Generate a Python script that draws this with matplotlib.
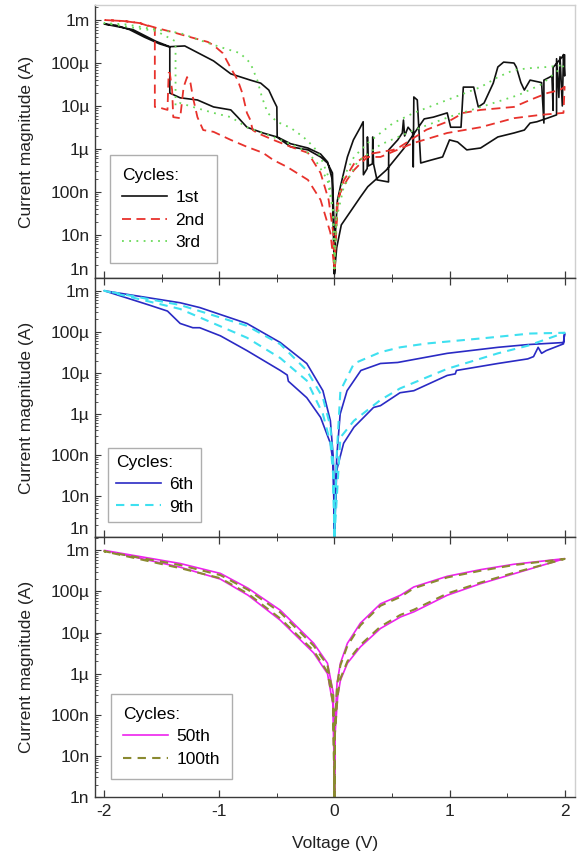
import matplotlib
matplotlib.use("Agg")
import matplotlib.pyplot as plt
from matplotlib.ticker import FixedLocator, FixedFormatter, LogLocator, NullFormatter, MultipleLocator

plt.rcParams['font.family'] = ['Liberation Sans', 'DejaVu Sans']
plt.rcParams['axes.unicode_minus'] = False

# ---------------- Cycles 1-3 (top panel) ----------------
v_c1 = [0.0, -0.005, -0.017, -0.06, -0.12, -0.23, -0.38, -0.50, -0.62, -0.76, -0.84, -0.90,
        -1.05, -1.19, -1.34, -1.43, -1.43, -1.52, -1.65, -1.78, -1.90, -2.0,
        -1.75, -1.55, -1.43, -1.30, -1.05, -0.90, -0.73, -0.64, -0.57, -0.53, -0.50, -0.497,
        -0.38, -0.23, -0.12, -0.06, -0.02, 0.0,
        0.01, 0.026, 0.052, 0.113, 0.165, 0.226, 0.25, 0.252, 0.285, 0.287, 0.295, 0.33,
        0.333, 0.34, 0.37, 0.47, 0.472, 0.55, 0.59, 0.60, 0.61, 0.64, 0.68, 0.685, 0.69,
        0.72, 0.75, 0.84, 0.94, 1.0, 1.07, 1.15, 1.27, 1.42, 1.56, 1.65, 1.70, 1.76, 1.85,
        1.93, 1.93, 1.95, 1.96, 1.98, 1.99, 2.0, 2.0,
        1.98, 1.90, 1.90, 1.89, 1.82, 1.82, 1.80, 1.70, 1.65, 1.62, 1.58, 1.56, 1.47, 1.42,
        1.38, 1.30, 1.25, 1.21, 1.12, 1.10, 1.01, 0.98, 0.86, 0.78, 0.60, 0.45, 0.29, 0.226,
        0.06, 0.02, 0.0]
i_c1 = [1.26e-9, 2.5e-8, 2.75e-7, 4.7e-7, 6.5e-7, 9.5e-7, 1.12e-6, 1.9e-6, 2.35e-6, 3.2e-6, 5.5e-6, 8.1e-6,
        9.5e-6, 1.38e-5, 1.55e-5, 2.0e-5, 2.35e-4, 2.8e-4, 4.0e-4, 6.0e-4, 7.6e-4, 8.1e-4,
        6.0e-4, 3.2e-4, 2.4e-4, 2.5e-4, 1.12e-4, 5.6e-5, 4.0e-5, 3.4e-5, 2.35e-5, 1.38e-5, 9.5e-6, 1.9e-6,
        1.32e-6, 1.05e-6, 7.6e-7, 5.0e-7, 2.0e-7, 1.26e-9,
        1.26e-8, 6.3e-8, 1.32e-7, 6.5e-7, 1.62e-6, 3.2e-6, 4.3e-6, 2.5e-7, 3.5e-7, 1.9e-6, 4.0e-7, 4.5e-7,
        1.9e-6, 4.5e-7, 1.9e-7, 1.7e-7, 9.5e-7, 1.62e-6, 2.35e-6, 4.7e-6, 2.0e-6, 3.2e-6, 2.35e-6, 3.8e-7, 1.62e-5,
        1.38e-5, 4.7e-7, 5.5e-7, 6.5e-7, 1.62e-6, 1.45e-6, 9.5e-7, 1.05e-6, 1.9e-6, 2.35e-6, 2.75e-6, 4.0e-6, 4.3e-6, 5.2e-6,
        6.2e-6, 1.26e-4, 1.58e-5, 1.4e-4, 1.0e-5, 1.58e-4, 5.0e-5, 1.55e-4,
        1.4e-4, 7.9e-5, 7.9e-6, 5.0e-5, 4.0e-5, 4.0e-6, 3.5e-5, 4.0e-5, 2.35e-5, 3.5e-5, 8.1e-5, 1.0e-4, 1.05e-4, 8.1e-5,
        3.4e-5, 1.17e-5, 9.5e-6, 2.75e-5, 2.75e-5, 3.2e-6, 3.2e-6, 6.9e-6, 5.5e-6, 5.0e-6, 1.0e-6, 3.2e-7, 1.32e-7, 7.6e-8,
        1.7e-8, 5.0e-9, 1.26e-9]

v_c2 = [0.0, 0.02, 0.05, 0.11, 0.17, 0.23, 0.29, 0.40, 0.69, 0.98, 1.27, 1.56, 1.79, 1.99, 2.0,
        1.96, 1.85, 1.70, 1.56, 1.27, 1.12, 1.0, 0.8, 0.57, 0.51, 0.30, 0.17, 0.08, 0.03, 0.0,
        -0.035, -0.12, -0.23, -0.41, -0.53, -0.62, -0.76, -0.90, -1.05, -1.14, -1.19, -1.23, -1.25,
        -1.28, -1.31, -1.34, -1.40, -1.41, -1.43, -1.44, -1.45, -1.54, -1.56, -1.56, -1.69, -1.83, -1.99,
        -1.83, -1.69, -1.54, -1.40, -1.25, -1.10, -1.05, -0.97, -0.90, -0.84, -0.80, -0.76, -0.73, -0.71,
        -0.67, -0.53, -0.38, -0.23, -0.12, -0.05, -0.01, 0.0]
i_c2 = [1.6e-9, 4.5e-8, 9.5e-8, 1.9e-7, 3.2e-7, 4.7e-7, 6.5e-7, 6.5e-7, 1.38e-6, 2.35e-6, 3.2e-6, 5.2e-6, 6.2e-6, 6.9e-6, 2.8e-5,
        2.35e-5, 2.0e-5, 1.38e-5, 9.5e-6, 8.1e-6, 6.9e-6, 4.5e-6, 2.8e-6, 1.12e-6, 9.5e-7, 7.6e-7, 4.5e-7, 1.8e-7, 6.3e-8, 1.6e-9,
        1.12e-8, 6.5e-8, 1.9e-7, 3.8e-7, 5.5e-7, 8.1e-7, 1.12e-6, 1.62e-6, 2.5e-6, 2.75e-6, 5.5e-6, 1.62e-5, 3.4e-5,
        4.7e-5, 2.75e-5, 5.2e-6, 5.5e-6, 2.35e-5, 5.9e-5, 5.9e-5, 8.1e-6, 9.5e-6, 9.5e-6, 6.5e-4, 8.5e-4, 9.5e-4, 1.0e-3,
        9.5e-4, 8.5e-4, 6.5e-4, 5.2e-4, 4.0e-4, 3.1e-4, 2.6e-4, 1.7e-4, 7.6e-5, 4.0e-5, 2.0e-5, 6.9e-6, 4.7e-6, 2.75e-6,
        2.35e-6, 1.62e-6, 1.12e-6, 8.1e-7, 2.75e-7, 6.5e-8, 1.12e-8, 1.6e-9]

v_c3 = [0.0, -0.01, -0.06, -0.15, -0.23, -0.32, -0.47, -0.62, -0.76, -0.90, -1.05, -1.23, -1.34, -1.38,
        -1.38, -1.55, -1.69, -1.83, -2.0,
        -1.8, -1.6, -1.34, -1.17, -0.99, -0.82, -0.73, -0.67, -0.63, -0.58, -0.50, -0.38, -0.27, -0.18,
        -0.12, -0.05, -0.01, 0.0,
        0.02, 0.08, 0.17, 0.29, 0.40, 0.51, 0.69, 0.98, 1.27, 1.42, 1.56, 1.70, 1.85, 2.0,
        1.8, 1.6, 1.3, 1.0, 0.7, 0.4, 0.2, 0.08, 0.02, 0.0]
i_c3 = [1.6e-9, 3.2e-8, 1.9e-7, 4.7e-7, 8.1e-7, 1.12e-6, 1.62e-6, 2.35e-6, 3.2e-6, 5.5e-6, 6.9e-6, 9.5e-6, 1.17e-5, 1.0e-5,
        3.2e-4, 5.6e-4, 6.3e-4, 7.2e-4, 8.5e-4,
        7.9e-4, 6.3e-4, 5.0e-4, 3.4e-4, 2.35e-4, 1.7e-4, 1.0e-4, 4.0e-5, 1.62e-5, 6.9e-6, 4.3e-6, 3.1e-6, 1.9e-6, 1.12e-6,
        6.5e-7, 2.2e-7, 3.2e-8, 1.6e-9,
        4.5e-8, 2.2e-7, 6.5e-7, 1.38e-6, 2.35e-6, 4.0e-6, 6.9e-6, 1.38e-5, 2.75e-5, 4.7e-5, 6.9e-5, 7.6e-5, 8.1e-5, 9.0e-5,
        3.2e-5, 1.8e-5, 1.0e-5, 5.6e-6, 2.8e-6, 1.26e-6, 5.0e-7, 1.26e-7, 2.5e-8, 1.6e-9]

# ---------------- Cycles 6 and 9 (middle panel) ----------------
v_c6 = [0.0, 0.02, 0.08, 0.17, 0.34, 0.40, 0.57, 0.69, 0.98, 1.05, 1.06, 1.42, 1.68, 1.73, 1.77,
        1.80, 1.84, 1.99, 2.0,
        1.99, 1.68, 1.42, 0.98, 0.55, 0.40, 0.23, 0.11, 0.05, 0.02, 0.0,
        -0.01, -0.035, -0.12, -0.24, -0.40, -0.41, -0.47, -0.76, -0.99, -1.17, -1.23, -1.34, -1.45, -1.6, -2.0,
        -1.34, -1.17, -0.76, -0.47, -0.24, -0.10, -0.035, -0.01, 0.0]
i_c6 = [1.0e-9, 4.3e-8, 1.95e-7, 4.8e-7, 1.45e-6, 1.6e-6, 3.3e-6, 3.7e-6, 8.7e-6, 9.5e-6, 1.15e-5, 1.7e-5, 2.2e-5, 2.5e-5, 4.2e-5,
        3.0e-5, 3.5e-5, 5.1e-5, 9.1e-5,
        5.5e-5, 4.9e-5, 4.2e-5, 3.0e-5, 1.8e-5, 1.7e-5, 1.15e-5, 3.7e-6, 1.0e-6, 8.9e-8, 1.0e-9,
        6.3e-8, 1.95e-7, 8.3e-7, 2.5e-6, 6.3e-6, 8.9e-6, 1.15e-5, 3.5e-5, 8.0e-5, 1.26e-4, 1.26e-4, 1.6e-4, 3.2e-4, 4.4e-4, 1.0e-3,
        5.1e-4, 3.9e-4, 1.6e-4, 5.5e-5, 1.7e-5, 3.7e-6, 6.9e-7, 8.9e-8, 1.0e-9]

v_c9 = [0.0, 0.052, 0.17, 0.4, 0.57, 0.98, 1.42, 1.68, 2.0,
        1.7, 1.34, 0.8, 0.57, 0.4, 0.17, 0.052, 0.02, 0.0,
        -0.01, -0.035, -0.10, -0.24, -0.47, -0.76, -1.34, -2.0,
        -1.34, -0.76, -0.47, -0.24, -0.10, -0.035, -0.01, 0.0]
i_c9 = [1.0e-9, 2.7e-7, 6.9e-7, 2.2e-6, 4.2e-6, 1.26e-5, 3.0e-5, 4.6e-5, 9.5e-5,
        9.1e-5, 7.2e-5, 5.2e-5, 4.2e-5, 3.2e-5, 1.7e-5, 3.7e-6, 1.0e-7, 1.0e-9,
        3.2e-8, 2.0e-7, 1.0e-6, 6.5e-6, 2.3e-5, 7.2e-5, 3.6e-4, 1.0e-3,
        4.5e-4, 1.4e-4, 5.0e-5, 1.15e-5, 2.5e-6, 5.0e-7, 6.3e-8, 1.0e-9]

# ---------------- Cycles 50 and 100 (bottom panel) ----------------
v_c50 = [0.0, 0.005, 0.028, 0.052, 0.113, 0.226, 0.4, 0.574, 0.69, 0.98, 1.27, 1.56, 2.0,
         1.56, 1.27, 0.98, 0.69, 0.574, 0.4, 0.226, 0.113, 0.052, 0.023, 0.005, 0.0,
         -0.01, -0.06, -0.18, -0.47, -0.75, -0.99, -1.34, -2.0,
         -1.34, -0.99, -0.75, -0.47, -0.18, -0.06, -0.01, 0.0]
i_c50 = [1.0e-9, 3.2e-8, 2.7e-7, 6.9e-7, 1.8e-6, 4.5e-6, 1.26e-5, 2.4e-5, 3.2e-5, 8.1e-5, 1.55e-4, 2.7e-4, 6.3e-4,
         4.6e-4, 3.4e-4, 2.34e-4, 1.29e-4, 8.1e-5, 5.0e-5, 1.7e-5, 5.5e-6, 1.8e-6, 5.9e-7, 6.3e-8, 1.0e-9,
         1.6e-7, 1.0e-6, 3.2e-6, 2.0e-5, 8.1e-5, 2.0e-4, 3.9e-4, 1.0e-3,
         4.8e-4, 2.75e-4, 1.2e-4, 3.5e-5, 5.5e-6, 1.8e-6, 3.4e-7, 1.0e-9]

v_c100 = [0.0, 0.005, 0.028, 0.052, 0.113, 0.226, 0.4, 0.574, 0.69, 0.98, 1.27, 1.56, 2.0,
          1.56, 1.27, 0.98, 0.69, 0.574, 0.4, 0.226, 0.113, 0.052, 0.023, 0.005, 0.0,
          -0.01, -0.06, -0.18, -0.47, -0.75, -0.99, -1.34, -2.0,
          -1.34, -0.99, -0.75, -0.47, -0.18, -0.06, -0.01, 0.0]
i_c100 = [1.0e-9, 3.6e-8, 3.0e-7, 7.6e-7, 2.0e-6, 5.0e-6, 1.4e-5, 2.7e-5, 3.6e-5, 8.9e-5, 1.65e-4, 2.85e-4, 6.2e-4,
          4.4e-4, 3.2e-4, 2.2e-4, 1.2e-4, 7.4e-5, 4.5e-5, 1.5e-5, 4.8e-6, 1.6e-6, 5.2e-7, 5.5e-8, 1.0e-9,
          1.8e-7, 1.1e-6, 3.6e-6, 2.2e-5, 8.8e-5, 2.1e-4, 3.7e-4, 9.5e-4,
          4.4e-4, 2.5e-4, 1.1e-4, 3.1e-5, 4.8e-6, 1.6e-6, 3.0e-7, 1.0e-9]

y_ticks = [1e-9, 1e-8, 1e-7, 1e-6, 1e-5, 1e-4, 1e-3]
y_labels = ['1n', '10n', '100n', '1\u00b5', '10\u00b5', '100\u00b5', '1m']
x_ticks = [-2, -1, 0, 1, 2]
x_labels = ['-2', '-1', '0', '1', '2']

FS = 12.5
DARK = '#3a3a3a'
LIGHT = '#cfcfcf'

fig = plt.figure(figsize=(5.77, 8.55), dpi=100)
gs = fig.add_gridspec(3, 1, left=0.1646, right=0.9965, bottom=0.0678, top=0.994,
                      hspace=0, height_ratios=[273, 260, 260])
axes = [fig.add_subplot(gs[k]) for k in range(3)]

series = [
    [(v_c1, i_c1, dict(color='#111111', lw=1.2, ls='-'), '1st'),
     (v_c2, i_c2, dict(color='#e8322c', lw=1.3, ls=(0, (5, 3))), '2nd'),
     (v_c3, i_c3, dict(color='#6ada5a', lw=1.3, ls=(0, (1, 3))), '3rd')],
    [(v_c6, i_c6, dict(color='#2a2ac4', lw=1.2, ls='-'), '6th'),
     (v_c9, i_c9, dict(color='#3ee0f0', lw=1.5, ls=(0, (4, 3))), '9th')],
    [(v_c50, i_c50, dict(color='#ee22ee', lw=1.2, ls='-'), '50th'),
     (v_c100, i_c100, dict(color='#8a8a30', lw=1.5, ls=(0, (4, 3))), '100th')],
]
ylims = [(1e-9, 2.23e-3), (1e-9, 2.07e-3), (1e-9, 2.07e-3)]
leg_anchor = [(0.031, 0.055), (0.027, 0.058), (0.033, 0.069)]
leg_pad = [(0.72, 0.42), (0.45, 0.40), (0.72, 0.42)]

for k, ax in enumerate(axes):
    for v, cur, style, lab in series[k]:
        ax.plot(v, cur, label=lab, **style)
    ax.set_yscale('log')
    ax.set_ylim(*ylims[k])
    ax.set_xlim(-2.08, 2.09)
    ax.yaxis.set_major_locator(FixedLocator(y_ticks))
    ax.yaxis.set_major_formatter(FixedFormatter(y_labels))
    ax.yaxis.set_minor_locator(LogLocator(base=10, subs=range(2, 10), numticks=20))
    ax.yaxis.set_minor_formatter(NullFormatter())
    ax.xaxis.set_major_locator(FixedLocator(x_ticks))
    ax.xaxis.set_major_formatter(FixedFormatter(x_labels))
    ax.xaxis.set_minor_locator(MultipleLocator(0.5))
    ax.tick_params(axis='y', which='major', direction='in', length=4, width=0.8,
                   color=DARK, labelsize=FS, pad=4, right=False)
    ax.tick_params(axis='y', which='minor', direction='in', length=2.2, width=0.6,
                   color=DARK, right=False)
    ax.tick_params(axis='x', which='major', direction='in', length=5, width=0.9,
                   color=DARK, labelsize=FS, pad=5, top=(k > 0), bottom=True)
    ax.tick_params(axis='x', which='minor', direction='in', length=3, width=0.7,
                   color=DARK, top=(k > 0), bottom=True)
    if k < 2:
        ax.tick_params(axis='x', labelbottom=False)
    ax.spines['left'].set_color(DARK)
    ax.spines['bottom'].set_color(DARK)
    ax.spines['right'].set_color(LIGHT)
    ax.spines['top'].set_color(LIGHT if k == 0 else DARK)
    for s in ax.spines.values():
        s.set_linewidth(1.0)
    ax.set_ylabel('Current magnitude (A)', fontsize=FS, color='#222222')
    ax.yaxis.set_label_coords(-0.128, 0.5)
    bpad, lspace = leg_pad[k]
    leg = ax.legend(title='Cycles:', loc='lower left', bbox_to_anchor=leg_anchor[k],
                    borderaxespad=0, fontsize=FS, title_fontsize=FS, frameon=True,
                    fancybox=False, edgecolor='#9a9a9a', handlelength=2.6,
                    handletextpad=0.45, labelspacing=lspace, borderpad=bpad)
    leg._legend_box.align = 'left'
    leg.get_frame().set_linewidth(1.0)

# the lowest label of the upper panels sits just above the shared boundary
for ax in axes[:2]:
    fig.canvas.draw()
    ax.get_yticklabels()[0].set_verticalalignment('bottom')

axes[2].set_xlabel('Voltage (V)', fontsize=FS, color='#222222', labelpad=12)
for ax in axes:
    ax.tick_params(labelcolor='#222222')

fig.savefig('out.png', dpi=100)
